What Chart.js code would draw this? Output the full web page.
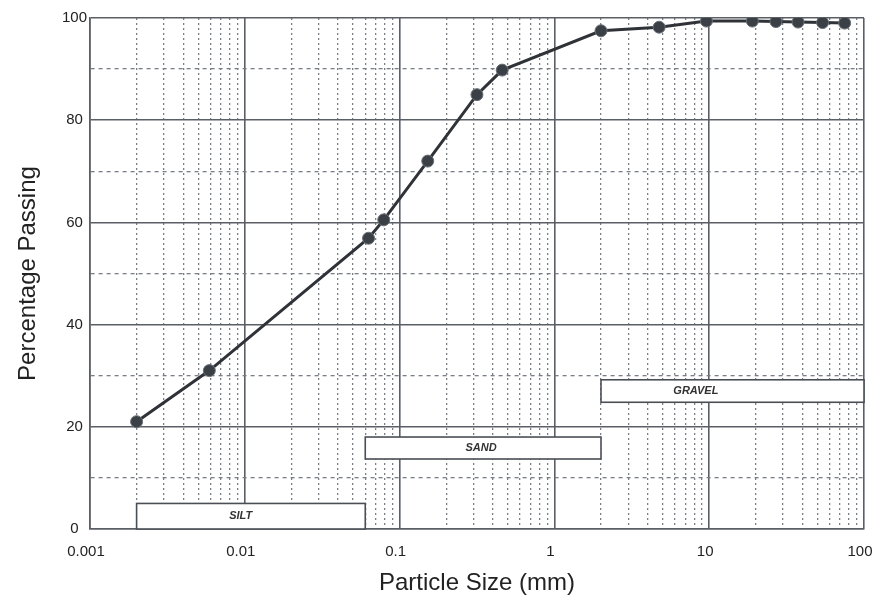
<!DOCTYPE html>
<html>
<head>
<meta charset="utf-8">
<title>Particle Size Distribution</title>
<script src="https://cdn.jsdelivr.net/npm/chart.js@4.4.0/dist/chart.umd.min.js"></script>
<style>
  html, body { margin: 0; padding: 0; background: #fff; }
  #wrap { width: 879px; height: 598px; position: relative; }
</style>
</head>
<body>
<div id="wrap"><canvas id="grading-chart"></canvas></div>
<script>
// ============================================================
// Data
// ============================================================
const sizeMm = [0.002, 0.0059, 0.063, 0.079, 0.152, 0.316, 0.46, 2.0, 4.75, 9.6, 19, 27, 37.5, 54, 75];
const passing = [21, 31, 56.9, 60.5, 72, 85, 89.8, 97.5, 98.2, 99.4, 99.4, 99.3, 99.2, 99.1, 99];

// x axis: decades get a label, 2..9 in each decade are minor grid lines
const xDecades = [0.001, 0.01, 0.1, 1, 10, 100];
const xTickLabels = ['0.001', '0.01', '0.1', '1', '10', '100'];
const xMinorSteps = [2, 3, 4, 5, 6, 7, 8, 9];

// y axis: every 10 gets a grid line, every 20 a label
const yTickValues = [0, 20, 40, 60, 80, 100];
const yTickLabels = ['0', '20', '40', '60', '80', '100'];

// soil zone boxes (x in mm, y in %)
const zoneNames = ['SILT', 'SAND', 'GRAVEL'];
const zoneFrom = [0.002, 0.06, 2];
const zoneTo = [0.06, 2, 100];
const zoneBottom = [0, 13.7, 24.8];
const zoneTop = [5, 18, 29.2];
const zoneLabelX = [0.0094, 0.336, 8.2];

// ============================================================
// Helpers
// ============================================================
const gridValues = [];
xDecades.forEach((d, i) => {
  gridValues.push(d);
  if (i < xDecades.length - 1) xMinorSteps.forEach(m => gridValues.push(+(d * m).toPrecision(3)));
});

function isDecade(v) {
  return xDecades.some(d => Math.abs(v - d) / d < 1e-6);
}

// Draws the SILT / SAND / GRAVEL boxes behind the curve
const zonePlugin = {
  id: 'zones',
  beforeDatasetsDraw(chart) {
    const { ctx, scales: { x, y } } = chart;
    ctx.save();
    zoneNames.forEach((name, i) => {
      const left = x.getPixelForValue(zoneFrom[i]);
      const right = x.getPixelForValue(zoneTo[i]);
      const top = y.getPixelForValue(zoneTop[i]);
      const bottom = y.getPixelForValue(zoneBottom[i]);
      ctx.fillStyle = '#fff';
      ctx.fillRect(left, top, right - left, bottom - top);
      ctx.strokeStyle = '#4a4f55';
      ctx.lineWidth = 1.6;
      ctx.strokeRect(left, top, right - left, bottom - top);
      ctx.fillStyle = '#333';
      ctx.font = 'italic bold 11px "Liberation Sans", Arial, sans-serif';
      ctx.textAlign = 'center';
      ctx.textBaseline = 'middle';
      ctx.fillText(name, x.getPixelForValue(zoneLabelX[i]), (top + bottom) / 2);
    });
    ctx.restore();
  }
};

// ============================================================
// Chart
// ============================================================
const ctx = document.getElementById('grading-chart').getContext('2d');
new Chart(ctx, {
  type: 'line',
  data: {
    datasets: [{
      label: 'Percentage Passing',
      data: sizeMm.map((s, i) => ({ x: s, y: passing[i] })),
      borderColor: '#2f3338',
      borderWidth: 3,
      pointRadius: 6,
      pointBackgroundColor: '#3b4046',
      pointBorderColor: '#6a7078',
      pointBorderWidth: 1,
      tension: 0,
      fill: false,
    }]
  },
  options: {
    responsive: true,
    maintainAspectRatio: false,
    animation: false,
    layout: { padding: { top: 18, right: 15, bottom: 0, left: 0 } },
    plugins: {
      legend: { display: false },
      tooltip: { enabled: false },
    },
    scales: {
      x: {
        type: 'logarithmic',
        min: 0.001,
        max: 100,
        afterBuildTicks: scale => { scale.ticks = gridValues.map(v => ({ value: v, major: isDecade(v) })); },
        afterFit: scale => {
          scale.height = 69;
          scale.paddingLeft = 0;
          scale.paddingRight = 0;
        },
        ticks: {
          autoSkip: false,
          maxRotation: 0,
          padding: 14,
          labelOffset: -4,
          color: '#222',
          font: { family: '"Liberation Sans", Arial, sans-serif', size: 15 },
          callback: val => {
            const i = xDecades.findIndex(d => Math.abs(val - d) / d < 1e-6);
            return i >= 0 ? xTickLabels[i] : '';
          },
        },
        grid: {
          drawTicks: false,
          color: c => (c.tick && isDecade(c.tick.value)) ? '#5a5f66' : '#7a7f86',
          lineWidth: c => (c.tick && isDecade(c.tick.value)) ? 1.6 : 1.3,
        },
        border: {
          display: true,
          color: '#5a5f66',
          width: 1.6,
          dash: c => (c.tick && !isDecade(c.tick.value)) ? [2, 3] : [],
        },
        title: {
          display: true,
          text: 'Particle Size (mm)',
          color: '#222',
          padding: { top: 0, bottom: 0 },
          font: { family: '"Liberation Sans", Arial, sans-serif', size: 24 },
        },
      },
      y: {
        min: 0,
        max: 100,
        afterFit: scale => { scale.width = 90; },
        ticks: {
          stepSize: 10,
          padding: 3,
          crossAlign: 'center',
          color: '#222',
          font: { family: '"Liberation Sans", Arial, sans-serif', size: 15 },
          callback: val => {
            const i = yTickValues.indexOf(val);
            return i >= 0 ? yTickLabels[i] : '';
          },
        },
        grid: {
          drawTicks: false,
          color: c => (c.tick && c.tick.value % 20 === 0) ? '#5a5f66' : '#7a7f86',
          lineWidth: c => (c.tick && c.tick.value % 20 === 0) ? 1.6 : 1.3,
        },
        border: {
          display: true,
          color: '#5a5f66',
          width: 1.6,
          dash: c => (c.tick && c.tick.value % 20 !== 0) ? [4, 4] : [],
        },
        title: {
          display: true,
          text: 'Percentage Passing',
          color: '#222',
          padding: { top: 14, bottom: 0 },
          font: { family: '"Liberation Sans", Arial, sans-serif', size: 24 },
        },
      },
    },
  },
  plugins: [zonePlugin],
});
</script>
</body>
</html>
